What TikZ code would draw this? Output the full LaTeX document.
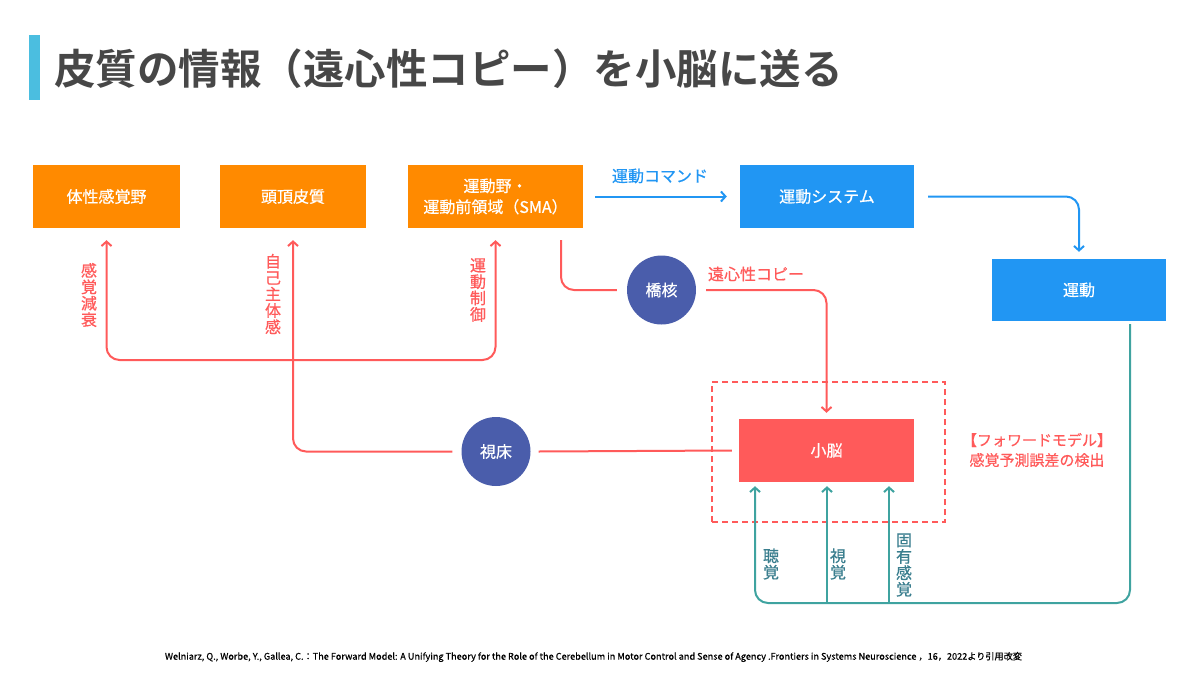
\documentclass[tikz,border=0pt]{standalone}
\usepackage{fontspec}
\setmainfont{Noto Sans CJK JP}[BoldFont={Noto Sans CJK JP Bold}]
\newfontfamily\medfont{Noto Sans CJK JP}[FakeBold=0.6]
\usetikzlibrary{arrows.meta,calc}
\definecolor{cOrange}{HTML}{FF8A00}
\definecolor{cBlue}{HTML}{2196F3}
\definecolor{cRed}{HTML}{FF5A5A}
\definecolor{cNavy}{HTML}{4A5DAB}
\definecolor{cTeal}{HTML}{3FA3A0}
\definecolor{cTealTxt}{HTML}{3A7E8E}
\definecolor{cTitle}{HTML}{474747}
\definecolor{cBar}{HTML}{4BBEE0}
\tikzset{
  barb/.tip={Straight Barb[length=4.5pt,width=10pt]},
  box/.style={rectangle, inner sep=0pt, text=white, font=\medfont\fontsize{16}{19}\selectfont, align=center},
  obox/.style={box, fill=cOrange, minimum height=63pt},
  bbox/.style={box, fill=cBlue, minimum height=63pt},
  rbox/.style={box, fill=cRed, minimum height=63pt},
  circ/.style={circle, fill=cNavy, text=white, minimum size=69pt, inner sep=0pt, font=\medfont\fontsize{16}{19}\selectfont},
  redline/.style={draw=cRed, line width=2pt, rounded corners=13pt},
  blueline/.style={draw=cBlue, line width=2pt, rounded corners=13pt},
  tealline/.style={draw=cTeal, line width=2pt, rounded corners=13pt},
  vlab/.style={align=center, inner sep=0pt, font=\medfont\fontsize{16}{16.4}\selectfont},
  dashbox/.style={draw=cRed, line width=2pt, dash pattern=on 6pt off 4pt, minimum width=233pt, minimum height=140pt, inner sep=0pt},
}
\begin{document}
\begin{tikzpicture}[x=1pt,y=-1pt]
\useasboundingbox (0,0) rectangle (1200,675);
% title
\fill[cBar] (29,35) rectangle (40,100);
\node[anchor=west, inner sep=0pt, text=cTitle, font=\fontsize{41.5}{45}\selectfont\bfseries] (title) at (54,69) {皮質の情報（遠心性コピー）を小脳に送る};
% boxes
\node[obox, minimum width=147pt] (som) at (106.5,196.5) {体性感覚野};
\node[obox, minimum width=146pt] (par) at (293,196.5) {頭頂皮質};
\node[obox, minimum width=175pt, font=\medfont\fontsize{16}{21}\selectfont] (sma) at (495.5,196.5) {運動野・\\運動前領域（SMA）};
\node[bbox, minimum width=174pt] (msys) at (827,196.5) {運動システム};
\node[bbox, minimum width=174pt, minimum height=62pt] (mov) at (1079,290) {運動};
\node[dashbox] (fw) at (828.5,452) {};
\node[rbox, minimum width=175pt] (cer) at (826.5,450.5) {小脳};
\node[circ] (pons) at (661.5,290) {橋核};
\node[circ] (thal) at (496,451.5) {視床};
% blue connectors
\draw[blueline, -barb] ([xshift=12pt]sma.east) -- ([xshift=-13pt]msys.west);
\node[text=cBlue, font=\medfont\fontsize{16}{19}\selectfont, inner sep=0pt] (cmdlab) at (660,176) {運動コマンド};
\draw[blueline, -barb] ([xshift=14pt]msys.east) -| ([yshift=7pt]mov.north);
% teal connectors
\coordinate (bl) at (755,603);
\coordinate (bm) at (827,603);
\coordinate (br) at (889,603);
\coordinate (cb) at ([yshift=-4pt]cer.south);
\draw[tealline, -barb] ([xshift=51pt,yshift=-3pt]mov.south) |- (bl) -- (cb -| bl);
\draw[tealline, -barb] (bm) -- (cb -| bm);
\draw[tealline, -barb] (br) -- (cb -| br);
\node[vlab, text=cTealTxt] (l1) at (771,564) {聴\\覚};
\node[vlab, text=cTealTxt] (l2) at (838,564) {視\\覚};
\node[vlab, text=cTealTxt] (l3) at (904,565) {固\\有\\感\\覚};
% red connectors
\draw[redline] ([xshift=65.5pt,yshift=-12pt]sma.south) |- ([xshift=-10pt]pons.west);
\draw[redline, -barb] ([xshift=10pt]pons.east) -| ([yshift=6pt]cer.north);
\node[text=cRed, font=\medfont\fontsize{16}{19}\selectfont, inner sep=0pt] (efflab) at (756,274) {遠心性コピー};
\draw[redline] ([xshift=8pt]thal.east) -- ([xshift=-7pt]cer.west);
\draw[redline, -barb] ([xshift=-9pt]thal.west) -| ([yshift=-12pt]par.south);
\coordinate (um) at (300,360);
\draw[redline, barb-barb] ([yshift=-12pt]som.south) |- (um) -| ([yshift=-12pt]sma.south);
\node[vlab, text=cRed] (r1) at (89,295) {感\\覚\\減\\衰};
\node[vlab, text=cRed] (r2) at (273,294) {自\\己\\主\\体\\感};
\node[vlab, text=cRed] (r3) at (478,290) {運\\動\\制\\御};
\node[align=center, text=cRed, inner sep=0pt, font=\medfont\fontsize{15}{20}\selectfont] (fwlab) at (1037,450) {【フォワードモデル】\\感覚予測誤差の検出};
% citation
\node[inner sep=0pt, text=black] (cite) at (593.5,657) {\resizebox{857pt}{!}{\medfont\fontsize{9}{11}\selectfont Welniarz, Q., Worbe, Y., Gallea, C.：The Forward Model: A Unifying Theory for the Role of the Cerebellum in Motor Control and Sense of Agency .Frontiers in Systems Neuroscience ，16，2022より引用改変}};
\end{tikzpicture}
\end{document}
